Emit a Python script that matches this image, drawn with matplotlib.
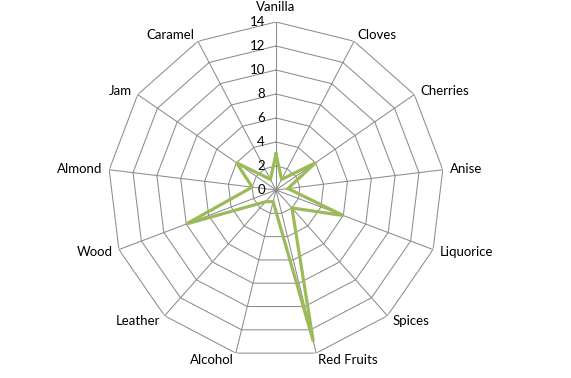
import numpy as np
import matplotlib
matplotlib.use("Agg")
import matplotlib.pyplot as plt

# ---------------------------
# 数据
# ---------------------------
categories = ["Vanilla", "Cloves", "Cherries", "Anise", "Liquorice", "Spices",
              "Red Fruits", "Alcohol", "Leather", "Wood", "Almond", "Jam", "Caramel"]
values = [3, 1, 4, 1, 6, 2, 13, 1, 1.3, 8, 2, 4, 1]
ring_levels = [0, 2, 4, 6, 8, 10, 12, 14]

LINE_COLOR = "#9BBB59"
GRID_COLOR = "#8C8C8C"

plt.rcParams["font.family"] = ["Lato", "DejaVu Sans"]

n = len(categories)
theta = np.arange(n) * 2 * np.pi / n
theta_closed = np.append(theta, theta[0])
r_max = ring_levels[-1]

fig = plt.figure(figsize=(5.71, 3.78), dpi=100)
ax = fig.add_axes([108 / 571, 20 / 378, 336 / 571, 336 / 378], projection="polar")
ax.set_theta_zero_location("N")
ax.set_theta_direction(-1)
ax.set_ylim(0, r_max)
ax.grid(False)
ax.spines["polar"].set_visible(False)
ax.set_xticks([])
ax.set_yticks([])

# 网格（多边形环 + 辐条）
for lev in ring_levels[1:]:
    ax.plot(theta_closed, [lev] * (n + 1), color=GRID_COLOR, lw=0.75, zorder=1)
for t in theta:
    ax.plot([t, t], [0, r_max], color=GRID_COLOR, lw=0.75, zorder=1)

# 数据线
vals_closed = values + values[:1]
ax.plot(theta_closed, vals_closed, color=LINE_COLOR, lw=2.3, zorder=3,
        solid_joinstyle="miter")

# 径向刻度标签
for lev in ring_levels:
    ax.annotate(str(lev), xy=(0, lev), xytext=(-11, 0), textcoords="offset pixels",
                ha="right", va="center", fontsize=9.5, color="black", zorder=4)

# 类别标签
for t, name in zip(theta, categories):
    s, c = np.sin(t), np.cos(t)
    if abs(s) < 0.1:
        ha, va = "center", "bottom"
        off = (0, 9)
    else:
        ha = "left" if s > 0 else "right"
        va = "center"
        off = (7 * s, 7 * c)
    ax.annotate(name, xy=(t, r_max), xytext=off, textcoords="offset pixels",
                ha=ha, va=va, fontsize=9.5, color="black", annotation_clip=False)

fig.savefig("out.png", dpi=100)
